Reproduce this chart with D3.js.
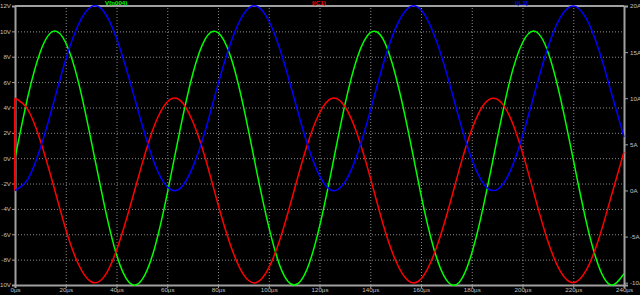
<!DOCTYPE html>
<html>
<head>
<meta charset="utf-8">
<script src="https://cdn.jsdelivr.net/npm/d3@7.9.0/dist/d3.min.js"></script>
<style>
  html, body { margin: 0; padding: 0; background: #000; }
  svg { display: block; }
  text { font-family: "Liberation Sans", Arial, sans-serif; }
</style>
</head>
<body>
<div id="chart"></div>
<script>
// chart size
const width = 640;
const height = 295;

// plot frame
const margin = { top: 6, right: 16, bottom: 10, left: 15 };

// time samples (µs)
const timeUs = d3.range(0, 241, 5);

// V(n004), volts (left axis)
const vN004 = [0, 4.8, 8.4, 10.0, 9.1, 6.0, 1.4, -3.5, -7.6, -9.8,
  -9.6, -7.1, -2.8, 2.2, 6.6, 9.4, 9.9, 8.0, 4.1, -0.8,
  -5.4, -8.8, -10.0, -8.8, -5.4, -0.7, 4.2, 8.0, 9.9, 9.4,
  6.5, 2.1, -2.9, -7.1, -9.6, -9.8, -7.5, -3.4, 1.5, 6.1,
  9.1, 10.0, 8.4, 4.7, -0.1, -4.9, -8.5, -10.0, -9.1];

// I(C1), amps (right axis)
const iC1 = [10, 8.8, 5.4, 0.7, -4.2, -8.0, -9.9, -9.4, -6.5, -2.1,
  2.8, 7.1, 9.6, 9.8, 7.5, 3.5, -1.5, -6.0, -9.1, -10.0,
  -8.4, -4.8, 0.0, 4.8, 8.4, 10.0, 9.1, 6.0, 1.4, -3.6,
  -7.6, -9.8, -9.6, -7.0, -2.8, 2.2, 6.6, 9.4, 9.9, 8.0,
  4.1, -0.8, -5.5, -8.8, -10.0, -8.7, -5.3, -0.6, 4.2];
// I(C1) value just before the first sample (step at t=0)
const iC1Start = 0;

// I(L1), amps (right axis)
const iL1 = [0, 1.2, 4.6, 9.3, 14.2, 18.0, 19.9, 19.4, 16.5, 12.1,
  7.2, 2.9, 0.4, 0.2, 2.5, 6.5, 11.5, 16.0, 19.1, 20.0,
  18.4, 14.8, 10.0, 5.2, 1.6, 0.0, 0.9, 4.0, 8.6, 13.6,
  17.6, 19.8, 19.6, 17.0, 12.8, 7.8, 3.4, 0.6, 0.1, 2.0,
  5.9, 10.8, 15.5, 18.8, 20.0, 18.7, 15.3, 10.6, 5.8];

// axis ticks
const xTicks = d3.range(0, 241, 20);
const yLeftTicks = d3.range(-10, 13, 2);
const yRightTicks = [-10, -5, 0, 5, 10, 15, 20];

const area = {
  left: margin.left,
  right: width - margin.right,
  top: margin.top,
  bottom: height - margin.bottom,
};

const x = d3.scaleLinear().domain([0, 240]).range([area.left, area.right]);
const yL = d3.scaleLinear().domain([-10, 12]).range([area.bottom, area.top]);
const yR = d3.scaleLinear().domain([-10.25, 20]).range([area.bottom, area.top]);

const svg = d3.select("#chart").append("svg")
  .attr("width", width)
  .attr("height", height);

svg.append("rect").attr("width", width).attr("height", height).attr("fill", "#000");

svg.append("defs").append("clipPath").attr("id", "clip")
  .append("rect")
  .attr("x", area.left - 1).attr("y", area.top - 1)
  .attr("width", area.right - area.left + 2)
  .attr("height", area.bottom - area.top + 2);

// gridlines
const gridColor = "#8a8a8a";
svg.append("g")
  .attr("transform", `translate(${area.left},0)`)
  .call(d3.axisLeft(yL).tickValues(yLeftTicks).tickFormat("").tickSize(-(area.right - area.left)))
  .call(g => g.select(".domain").remove())
  .call(g => g.selectAll("line").attr("stroke", gridColor).attr("stroke-dasharray", "1 2"));

svg.append("g")
  .attr("transform", `translate(0,${area.bottom})`)
  .call(d3.axisBottom(x).tickValues(xTicks).tickFormat("").tickSize(-(area.bottom - area.top)))
  .call(g => g.select(".domain").remove())
  .call(g => g.selectAll("line").attr("stroke", gridColor).attr("stroke-dasharray", "1 2"));

// axes
const axisColor = "#a0a0a0";
const textColor = "#c0c0c0";
const fontSize = 6.2;

function styleAxis(g) {
  g.select(".domain").attr("stroke", axisColor).attr("stroke-width", 2);
  g.selectAll(".tick line").attr("stroke", axisColor);
  g.selectAll("text").attr("fill", textColor).attr("font-size", fontSize)
    .attr("font-family", "Liberation Sans, Arial, sans-serif");
}

svg.append("g")
  .attr("transform", `translate(${area.left},0)`)
  .call(d3.axisLeft(yL).tickValues(yLeftTicks).tickFormat(d => d + "V")
    .tickSizeOuter(0).tickSize(3).tickPadding(1))
  .call(styleAxis);

svg.append("g")
  .attr("transform", `translate(${area.right},0)`)
  .call(d3.axisRight(yR).tickValues(yRightTicks).tickFormat(d => d + "A")
    .tickSizeOuter(0).tickSize(4).tickPadding(2))
  .call(styleAxis);

svg.append("g")
  .attr("transform", `translate(0,${area.bottom})`)
  .call(d3.axisBottom(x).tickValues(xTicks).tickFormat(d => d + "µs")
    .tickSizeOuter(0).tickSize(3).tickPadding(0))
  .call(styleAxis);

// top frame line
svg.append("line")
  .attr("x1", area.left).attr("x2", area.right)
  .attr("y1", area.top).attr("y2", area.top)
  .attr("stroke", axisColor).attr("stroke-width", 2);

// traces, drawn over the frame
const traces = svg.append("g").attr("clip-path", "url(#clip)")
  .attr("fill", "none").attr("stroke-width", 1.5);

const lineL = d3.line().x((d, i) => x(timeUs[i])).y(d => yL(d)).curve(d3.curveNatural);
const lineR = d3.line().x((d, i) => x(timeUs[i])).y(d => yR(d)).curve(d3.curveNatural);

traces.append("path").attr("d", lineL(vN004)).attr("stroke", "#00ff00");
traces.append("path").attr("d", lineR(iC1)).attr("stroke", "#ff0000");
traces.append("line")
  .attr("x1", x(0)).attr("x2", x(0))
  .attr("y1", yR(iC1Start)).attr("y2", yR(iC1[0]))
  .attr("stroke", "#ff0000").attr("stroke-width", 2);
traces.append("path").attr("d", lineR(iL1)).attr("stroke", "#0000ff");

// trace labels
const labels = [
  { text: "V(n004)", x: 105, color: "#00ff00" },
  { text: "I(C1)", x: 312, color: "#ff0000" },
  { text: "I(L1)", x: 515, color: "#0000ff" },
];
svg.append("g").selectAll("text")
  .data(labels)
  .join("text")
  .attr("x", d => d.x)
  .attr("y", 5)
  .attr("fill", d => d.color)
  .attr("font-size", fontSize)
  .attr("font-weight", "bold")
  .text(d => d.text);
</script>
</body>
</html>
